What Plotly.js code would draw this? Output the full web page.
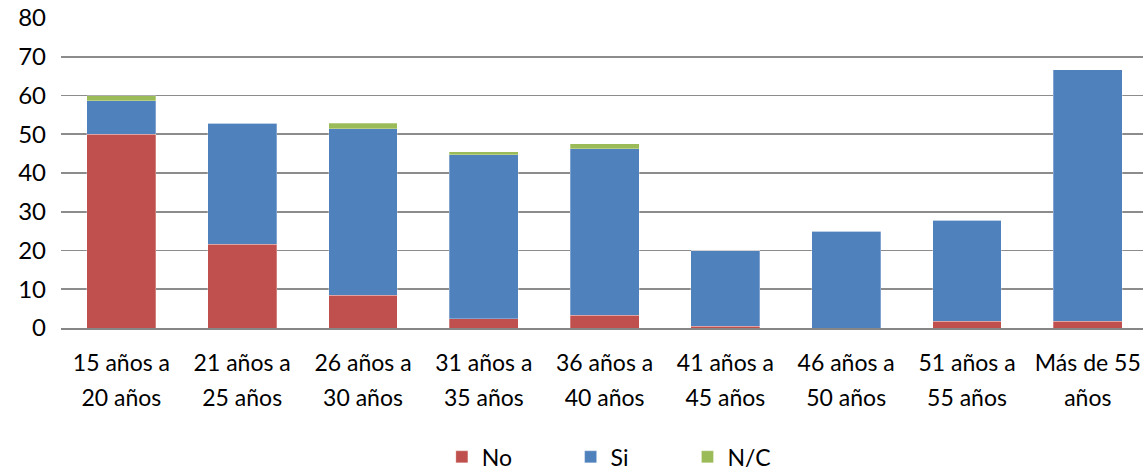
<!DOCTYPE html>
<html>
<head>
<meta charset="utf-8">
<script src="https://cdn.plot.ly/plotly-3.0.1.min.js"></script>
<style>html,body{margin:0;padding:0;background:#fff;}#chart{width:1143px;height:472px;}</style>
</head>
<body>
<div id="chart"></div>
<script>
// Category labels (two lines each)
const labelLine1 = ["15 años a", "21 años a", "26 años a", "31 años a", "36 años a", "41 años a", "46 años a", "51 años a", "Más de 55"];
const labelLine2 = ["20 años", "25 años", "30 años", "35 años", "40 años", "45 años", "50 años", "55 años", "años"];
const catIndex = [0, 1, 2, 3, 4, 5, 6, 7, 8];

// Series values
const valuesNo = [50, 21.6, 8.4, 2.4, 3.3, 0.5, 0, 1.7, 1.7];
const valuesSi = [8.7, 31.2, 43, 42.3, 42.9, 19.5, 25, 26.1, 64.9];
const valuesNC = [1.3, 0, 1.4, 0.8, 1.4, 0, 0, 0, 0];

const yTicks = [0, 10, 20, 30, 40, 50, 60, 70, 80];

const FONT = "Lato, 'Open Sans', sans-serif";
const edge = {width: 0.8, color: "rgba(255,255,255,0.35)"};

const traces = [
  {type: "bar", name: "No", x: catIndex, y: valuesNo, marker: {color: "#C0504D", line: edge}, legend: "legend", hoverinfo: "y+name"},
  {type: "bar", name: "Si", x: catIndex, y: valuesSi, marker: {color: "#4F81BD", line: edge}, legend: "legend2", hoverinfo: "y+name"},
  {type: "bar", name: "N/C", x: catIndex, y: valuesNC, marker: {color: "#9BBB59", line: edge}, legend: "legend3", hoverinfo: "y+name"}
];

const legendBase = {orientation: "h", yanchor: "middle", xanchor: "left", yref: "container", y: 0.032,
  font: {family: FONT, size: 23, color: "#000"}, bgcolor: "rgba(0,0,0,0)", traceorder: "normal"};

const layout = {
  width: 1143, height: 472,
  margin: {l: 61, r: 0, t: 18, b: 144},
  paper_bgcolor: "#fff", plot_bgcolor: "#fff",
  barmode: "stack", bargap: 0.43,
  font: {family: FONT, size: 23, color: "#000"},
  xaxis: {
    type: "linear", range: [-0.5, 8.457], tickvals: catIndex, ticktext: labelLine1,
    showgrid: false, zeroline: false, showline: true, linecolor: "#868686", linewidth: 2,
    ticks: "", ticklabelstandoff: 13, tickfont: {family: FONT, size: 23, color: "#000"}, fixedrange: true, automargin: false
  },
  xaxis2: {
    type: "linear", overlaying: "x", anchor: "y", side: "bottom", range: [-0.5, 8.457],
    tickvals: catIndex, ticktext: labelLine2, showgrid: false, zeroline: false, showline: false,
    ticks: "", ticklabelstandoff: 54, tickfont: {family: FONT, size: 23, color: "#000"}, fixedrange: true, automargin: false
  },
  yaxis: {
    range: [0, 80], tickvals: yTicks, showgrid: true, gridcolor: "#8c8c8c", gridwidth: 1.6,
    zeroline: false, showline: false, ticks: "", ticklabelstandoff: 14,
    tickfont: {family: FONT, size: 24, color: "#000"}, fixedrange: true, automargin: false
  },
  legend: Object.assign({}, legendBase, {x: 0.352}),
  legend2: Object.assign({}, legendBase, {x: 0.471}),
  legend3: Object.assign({}, legendBase, {x: 0.579}),
  showlegend: true
};

// empty helper so the second label axis is drawn
traces.push({type: "scatter", x: [], y: [], xaxis: "x2", yaxis: "y", showlegend: false, hoverinfo: "skip"});

Plotly.newPlot("chart", traces, layout, {displayModeBar: false, staticPlot: true});
</script>
</body>
</html>
